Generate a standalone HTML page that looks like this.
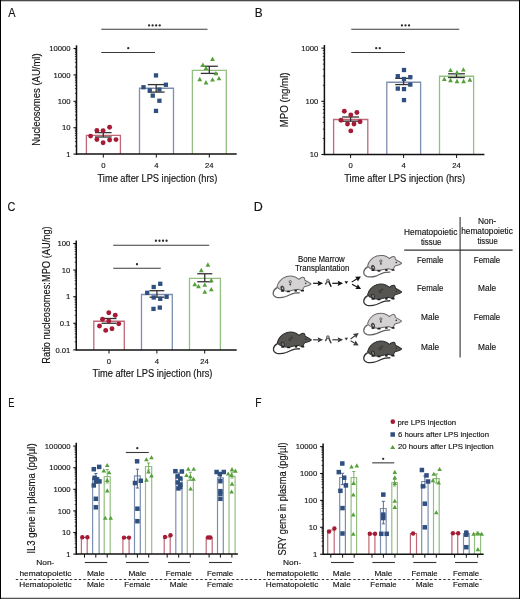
<!DOCTYPE html>
<html><head><meta charset="utf-8"><style>
html,body{margin:0;padding:0;background:#fff;width:520px;height:599px;overflow:hidden;}
svg{display:block;will-change:transform;}
text{font-family:"Liberation Sans", sans-serif;stroke:#141414;stroke-width:0.15px;}
</style></head><body>
<svg width="520" height="599" viewBox="0 0 520 599">
<rect x="0" y="0" width="520" height="599" fill="#fff"/>
<text x="8.18" y="16.50" font-size="12.4" fill="#141414" textLength="7.24" lengthAdjust="spacingAndGlyphs" >A</text>
<line x1="76.50" y1="45.30" x2="76.50" y2="154.80" stroke="#111" stroke-width="1.5" />
<line x1="73.50" y1="154.10" x2="76.50" y2="154.10" stroke="#111" stroke-width="1.1" />
<text x="66.34" y="156.85" font-size="8.0" fill="#141414" textLength="4.28" lengthAdjust="spacingAndGlyphs" >1</text>
<line x1="74.90" y1="146.15" x2="76.50" y2="146.15" stroke="#111" stroke-width="0.8" />
<line x1="74.90" y1="141.50" x2="76.50" y2="141.50" stroke="#111" stroke-width="0.8" />
<line x1="74.90" y1="138.21" x2="76.50" y2="138.21" stroke="#111" stroke-width="0.8" />
<line x1="74.90" y1="135.65" x2="76.50" y2="135.65" stroke="#111" stroke-width="0.8" />
<line x1="74.90" y1="133.56" x2="76.50" y2="133.56" stroke="#111" stroke-width="0.8" />
<line x1="74.90" y1="131.79" x2="76.50" y2="131.79" stroke="#111" stroke-width="0.8" />
<line x1="74.90" y1="130.26" x2="76.50" y2="130.26" stroke="#111" stroke-width="0.8" />
<line x1="74.90" y1="128.91" x2="76.50" y2="128.91" stroke="#111" stroke-width="0.8" />
<line x1="73.50" y1="127.70" x2="76.50" y2="127.70" stroke="#111" stroke-width="1.1" />
<text x="61.98" y="130.45" font-size="8.0" fill="#141414" textLength="8.57" lengthAdjust="spacingAndGlyphs" >10</text>
<line x1="74.90" y1="119.75" x2="76.50" y2="119.75" stroke="#111" stroke-width="0.8" />
<line x1="74.90" y1="115.10" x2="76.50" y2="115.10" stroke="#111" stroke-width="0.8" />
<line x1="74.90" y1="111.81" x2="76.50" y2="111.81" stroke="#111" stroke-width="0.8" />
<line x1="74.90" y1="109.25" x2="76.50" y2="109.25" stroke="#111" stroke-width="0.8" />
<line x1="74.90" y1="107.16" x2="76.50" y2="107.16" stroke="#111" stroke-width="0.8" />
<line x1="74.90" y1="105.39" x2="76.50" y2="105.39" stroke="#111" stroke-width="0.8" />
<line x1="74.90" y1="103.86" x2="76.50" y2="103.86" stroke="#111" stroke-width="0.8" />
<line x1="74.90" y1="102.51" x2="76.50" y2="102.51" stroke="#111" stroke-width="0.8" />
<line x1="73.50" y1="101.30" x2="76.50" y2="101.30" stroke="#111" stroke-width="1.1" />
<text x="57.70" y="104.05" font-size="8.0" fill="#141414" textLength="12.85" lengthAdjust="spacingAndGlyphs" >100</text>
<line x1="74.90" y1="93.35" x2="76.50" y2="93.35" stroke="#111" stroke-width="0.8" />
<line x1="74.90" y1="88.70" x2="76.50" y2="88.70" stroke="#111" stroke-width="0.8" />
<line x1="74.90" y1="85.41" x2="76.50" y2="85.41" stroke="#111" stroke-width="0.8" />
<line x1="74.90" y1="82.85" x2="76.50" y2="82.85" stroke="#111" stroke-width="0.8" />
<line x1="74.90" y1="80.76" x2="76.50" y2="80.76" stroke="#111" stroke-width="0.8" />
<line x1="74.90" y1="78.99" x2="76.50" y2="78.99" stroke="#111" stroke-width="0.8" />
<line x1="74.90" y1="77.46" x2="76.50" y2="77.46" stroke="#111" stroke-width="0.8" />
<line x1="74.90" y1="76.11" x2="76.50" y2="76.11" stroke="#111" stroke-width="0.8" />
<line x1="73.50" y1="74.90" x2="76.50" y2="74.90" stroke="#111" stroke-width="1.1" />
<text x="53.41" y="77.65" font-size="8.0" fill="#141414" textLength="17.14" lengthAdjust="spacingAndGlyphs" >1000</text>
<line x1="74.90" y1="66.95" x2="76.50" y2="66.95" stroke="#111" stroke-width="0.8" />
<line x1="74.90" y1="62.30" x2="76.50" y2="62.30" stroke="#111" stroke-width="0.8" />
<line x1="74.90" y1="59.01" x2="76.50" y2="59.01" stroke="#111" stroke-width="0.8" />
<line x1="74.90" y1="56.45" x2="76.50" y2="56.45" stroke="#111" stroke-width="0.8" />
<line x1="74.90" y1="54.36" x2="76.50" y2="54.36" stroke="#111" stroke-width="0.8" />
<line x1="74.90" y1="52.59" x2="76.50" y2="52.59" stroke="#111" stroke-width="0.8" />
<line x1="74.90" y1="51.06" x2="76.50" y2="51.06" stroke="#111" stroke-width="0.8" />
<line x1="74.90" y1="49.71" x2="76.50" y2="49.71" stroke="#111" stroke-width="0.8" />
<line x1="73.50" y1="48.50" x2="76.50" y2="48.50" stroke="#111" stroke-width="1.1" />
<text x="49.13" y="51.25" font-size="8.0" fill="#141414" textLength="21.42" lengthAdjust="spacingAndGlyphs" >10000</text>
<path d="M86.40 154.10V135.40H120.40V154.10" fill="none" stroke="#c06878" stroke-width="1.3"/>
<path d="M139.50 154.10V88.25H173.50V154.10" fill="none" stroke="#7d8fae" stroke-width="1.3"/>
<path d="M192.40 154.10V70.40H226.30V154.10" fill="none" stroke="#93bf80" stroke-width="1.3"/>
<line x1="76.00" y1="154.10" x2="236.70" y2="154.10" stroke="#111" stroke-width="1.5" />
<line x1="103.30" y1="154.10" x2="103.30" y2="157.60" stroke="#111" stroke-width="1.0" />
<text x="101.16" y="168.10" font-size="8.0" fill="#141414" textLength="4.28" lengthAdjust="spacingAndGlyphs" >0</text>
<line x1="156.30" y1="154.10" x2="156.30" y2="157.60" stroke="#111" stroke-width="1.0" />
<text x="154.18" y="168.10" font-size="8.0" fill="#141414" textLength="4.28" lengthAdjust="spacingAndGlyphs" >4</text>
<line x1="209.30" y1="154.10" x2="209.30" y2="157.60" stroke="#111" stroke-width="1.0" />
<text x="204.93" y="168.10" font-size="8.0" fill="#141414" textLength="8.57" lengthAdjust="spacingAndGlyphs" >24</text>
<line x1="95.00" y1="132.60" x2="111.60" y2="132.60" stroke="#333333" stroke-width="1.3" />
<line x1="95.00" y1="137.00" x2="111.60" y2="137.00" stroke="#333333" stroke-width="1.3" />
<line x1="103.30" y1="132.60" x2="103.30" y2="137.00" stroke="#333333" stroke-width="1.3" />
<circle cx="90.60" cy="136.10" r="2.45" fill="#a51b35"/>
<circle cx="96.90" cy="130.40" r="2.45" fill="#a51b35"/>
<circle cx="103.10" cy="130.60" r="2.45" fill="#a51b35"/>
<circle cx="109.60" cy="127.30" r="2.45" fill="#a51b35"/>
<circle cx="96.90" cy="139.50" r="2.45" fill="#a51b35"/>
<circle cx="103.10" cy="142.75" r="2.45" fill="#a51b35"/>
<circle cx="109.60" cy="140.00" r="2.45" fill="#a51b35"/>
<circle cx="116.00" cy="139.60" r="2.45" fill="#a51b35"/>
<line x1="147.80" y1="84.60" x2="164.60" y2="84.60" stroke="#333333" stroke-width="1.3" />
<line x1="147.80" y1="92.10" x2="164.60" y2="92.10" stroke="#333333" stroke-width="1.3" />
<line x1="156.20" y1="84.60" x2="156.20" y2="92.10" stroke="#333333" stroke-width="1.3" />
<rect x="153.85" y="73.25" width="4.3" height="4.3" fill="#2f4f7f"/>
<rect x="141.35" y="85.10" width="4.3" height="4.3" fill="#2f4f7f"/>
<rect x="163.75" y="82.60" width="4.3" height="4.3" fill="#2f4f7f"/>
<rect x="147.60" y="88.25" width="4.3" height="4.3" fill="#2f4f7f"/>
<rect x="157.25" y="87.45" width="4.3" height="4.3" fill="#2f4f7f"/>
<rect x="150.60" y="93.45" width="4.3" height="4.3" fill="#2f4f7f"/>
<rect x="157.25" y="98.60" width="4.3" height="4.3" fill="#2f4f7f"/>
<rect x="153.85" y="108.75" width="4.3" height="4.3" fill="#2f4f7f"/>
<line x1="200.80" y1="66.25" x2="217.80" y2="66.25" stroke="#333333" stroke-width="1.3" />
<line x1="200.80" y1="73.40" x2="217.80" y2="73.40" stroke="#333333" stroke-width="1.3" />
<line x1="209.30" y1="66.25" x2="209.30" y2="73.40" stroke="#333333" stroke-width="1.3" />
<path d="M212.50 56.60L214.90 60.90L210.10 60.90Z" fill="#55a03a"/>
<path d="M202.90 62.60L205.30 66.90L200.50 66.90Z" fill="#55a03a"/>
<path d="M206.00 65.75L208.40 70.05L203.60 70.05Z" fill="#55a03a"/>
<path d="M215.90 70.95L218.30 75.25L213.50 75.25Z" fill="#55a03a"/>
<path d="M199.75 76.85L202.15 81.15L197.35 81.15Z" fill="#55a03a"/>
<path d="M206.00 80.10L208.40 84.40L203.60 84.40Z" fill="#55a03a"/>
<path d="M212.50 77.25L214.90 81.55L210.10 81.55Z" fill="#55a03a"/>
<path d="M219.00 75.95L221.40 80.25L216.60 80.25Z" fill="#55a03a"/>
<line x1="101.25" y1="29.30" x2="207.50" y2="29.30" stroke="#3a3a3a" stroke-width="1.1" />
<circle cx="149.08" cy="25.40" r="1.15" fill="#2a2a2a"/>
<circle cx="152.62" cy="25.40" r="1.15" fill="#2a2a2a"/>
<circle cx="156.18" cy="25.40" r="1.15" fill="#2a2a2a"/>
<circle cx="159.72" cy="25.40" r="1.15" fill="#2a2a2a"/>
<line x1="101.25" y1="52.50" x2="155.00" y2="52.50" stroke="#3a3a3a" stroke-width="1.1" />
<circle cx="128.25" cy="48.20" r="1.15" fill="#2a2a2a"/>
<text x="97.54" y="181.60" font-size="10" fill="#141414" textLength="119.73" lengthAdjust="spacingAndGlyphs" >Time after LPS injection (hrs)</text>
<text x="-0.78" y="0" font-size="10" fill="#141414" textLength="92.37" lengthAdjust="spacingAndGlyphs" transform="translate(40.10 145.00) rotate(-90)">Nucleosomes (AU/ml)</text>
<text x="254.63" y="16.50" font-size="12.4" fill="#141414" textLength="7.90" lengthAdjust="spacingAndGlyphs" >B</text>
<line x1="324.40" y1="45.00" x2="324.40" y2="155.20" stroke="#111" stroke-width="1.5" />
<line x1="321.40" y1="154.50" x2="324.40" y2="154.50" stroke="#111" stroke-width="1.1" />
<text x="309.83" y="157.25" font-size="8.0" fill="#141414" textLength="8.57" lengthAdjust="spacingAndGlyphs" >10</text>
<line x1="322.80" y1="138.49" x2="324.40" y2="138.49" stroke="#111" stroke-width="0.8" />
<line x1="322.80" y1="129.12" x2="324.40" y2="129.12" stroke="#111" stroke-width="0.8" />
<line x1="322.80" y1="122.47" x2="324.40" y2="122.47" stroke="#111" stroke-width="0.8" />
<line x1="322.80" y1="117.31" x2="324.40" y2="117.31" stroke="#111" stroke-width="0.8" />
<line x1="322.80" y1="113.10" x2="324.40" y2="113.10" stroke="#111" stroke-width="0.8" />
<line x1="322.80" y1="109.54" x2="324.40" y2="109.54" stroke="#111" stroke-width="0.8" />
<line x1="322.80" y1="106.46" x2="324.40" y2="106.46" stroke="#111" stroke-width="0.8" />
<line x1="322.80" y1="103.73" x2="324.40" y2="103.73" stroke="#111" stroke-width="0.8" />
<line x1="321.40" y1="101.30" x2="324.40" y2="101.30" stroke="#111" stroke-width="1.1" />
<text x="305.55" y="104.05" font-size="8.0" fill="#141414" textLength="12.85" lengthAdjust="spacingAndGlyphs" >100</text>
<line x1="322.80" y1="85.29" x2="324.40" y2="85.29" stroke="#111" stroke-width="0.8" />
<line x1="322.80" y1="75.92" x2="324.40" y2="75.92" stroke="#111" stroke-width="0.8" />
<line x1="322.80" y1="69.27" x2="324.40" y2="69.27" stroke="#111" stroke-width="0.8" />
<line x1="322.80" y1="64.11" x2="324.40" y2="64.11" stroke="#111" stroke-width="0.8" />
<line x1="322.80" y1="59.90" x2="324.40" y2="59.90" stroke="#111" stroke-width="0.8" />
<line x1="322.80" y1="56.34" x2="324.40" y2="56.34" stroke="#111" stroke-width="0.8" />
<line x1="322.80" y1="53.26" x2="324.40" y2="53.26" stroke="#111" stroke-width="0.8" />
<line x1="322.80" y1="50.53" x2="324.40" y2="50.53" stroke="#111" stroke-width="0.8" />
<line x1="321.40" y1="48.10" x2="324.40" y2="48.10" stroke="#111" stroke-width="1.1" />
<text x="301.26" y="50.85" font-size="8.0" fill="#141414" textLength="17.14" lengthAdjust="spacingAndGlyphs" >1000</text>
<path d="M333.60 154.50V119.50H367.80V154.50" fill="none" stroke="#c06878" stroke-width="1.3"/>
<path d="M386.80 154.50V82.25H420.60V154.50" fill="none" stroke="#7d8fae" stroke-width="1.3"/>
<path d="M439.50 154.50V76.25H473.60V154.50" fill="none" stroke="#93bf80" stroke-width="1.3"/>
<line x1="324.00" y1="154.50" x2="484.40" y2="154.50" stroke="#111" stroke-width="1.5" />
<line x1="350.60" y1="154.50" x2="350.60" y2="158.00" stroke="#111" stroke-width="1.0" />
<text x="348.46" y="168.10" font-size="8.0" fill="#141414" textLength="4.28" lengthAdjust="spacingAndGlyphs" >0</text>
<line x1="403.60" y1="154.50" x2="403.60" y2="158.00" stroke="#111" stroke-width="1.0" />
<text x="401.48" y="168.10" font-size="8.0" fill="#141414" textLength="4.28" lengthAdjust="spacingAndGlyphs" >4</text>
<line x1="456.60" y1="154.50" x2="456.60" y2="158.00" stroke="#111" stroke-width="1.0" />
<text x="452.23" y="168.10" font-size="8.0" fill="#141414" textLength="8.57" lengthAdjust="spacingAndGlyphs" >24</text>
<line x1="342.10" y1="117.00" x2="359.10" y2="117.00" stroke="#333333" stroke-width="1.3" />
<line x1="342.10" y1="121.20" x2="359.10" y2="121.20" stroke="#333333" stroke-width="1.3" />
<line x1="350.60" y1="117.00" x2="350.60" y2="121.20" stroke="#333333" stroke-width="1.3" />
<circle cx="344.30" cy="111.20" r="2.45" fill="#a51b35"/>
<circle cx="356.90" cy="112.50" r="2.45" fill="#a51b35"/>
<circle cx="350.80" cy="115.00" r="2.45" fill="#a51b35"/>
<circle cx="341.00" cy="120.20" r="2.45" fill="#a51b35"/>
<circle cx="360.10" cy="121.80" r="2.45" fill="#a51b35"/>
<circle cx="347.50" cy="124.00" r="2.45" fill="#a51b35"/>
<circle cx="354.00" cy="124.00" r="2.45" fill="#a51b35"/>
<circle cx="350.80" cy="130.90" r="2.45" fill="#a51b35"/>
<line x1="395.20" y1="78.35" x2="412.00" y2="78.35" stroke="#333333" stroke-width="1.3" />
<line x1="395.20" y1="84.55" x2="412.00" y2="84.55" stroke="#333333" stroke-width="1.3" />
<line x1="403.60" y1="78.35" x2="403.60" y2="84.55" stroke="#333333" stroke-width="1.3" />
<rect x="401.85" y="67.85" width="4.3" height="4.3" fill="#2f4f7f"/>
<rect x="395.65" y="74.05" width="4.3" height="4.3" fill="#2f4f7f"/>
<rect x="408.15" y="75.05" width="4.3" height="4.3" fill="#2f4f7f"/>
<rect x="401.85" y="76.85" width="4.3" height="4.3" fill="#2f4f7f"/>
<rect x="408.15" y="82.45" width="4.3" height="4.3" fill="#2f4f7f"/>
<rect x="395.65" y="86.45" width="4.3" height="4.3" fill="#2f4f7f"/>
<rect x="401.85" y="86.95" width="4.3" height="4.3" fill="#2f4f7f"/>
<rect x="401.85" y="97.95" width="4.3" height="4.3" fill="#2f4f7f"/>
<line x1="448.10" y1="73.80" x2="464.90" y2="73.80" stroke="#333333" stroke-width="1.3" />
<line x1="448.10" y1="77.50" x2="464.90" y2="77.50" stroke="#333333" stroke-width="1.3" />
<line x1="456.50" y1="73.80" x2="456.50" y2="77.50" stroke="#333333" stroke-width="1.3" />
<path d="M450.50 67.65L452.90 71.95L448.10 71.95Z" fill="#55a03a"/>
<path d="M463.40 67.15L465.80 71.45L461.00 71.45Z" fill="#55a03a"/>
<path d="M457.00 70.05L459.40 74.35L454.60 74.35Z" fill="#55a03a"/>
<path d="M444.30 76.65L446.70 80.95L441.90 80.95Z" fill="#55a03a"/>
<path d="M450.50 77.85L452.90 82.15L448.10 82.15Z" fill="#55a03a"/>
<path d="M457.00 78.85L459.40 83.15L454.60 83.15Z" fill="#55a03a"/>
<path d="M463.60 78.85L466.00 83.15L461.20 83.15Z" fill="#55a03a"/>
<path d="M469.90 77.35L472.30 81.65L467.50 81.65Z" fill="#55a03a"/>
<line x1="351.25" y1="29.25" x2="459.25" y2="29.25" stroke="#3a3a3a" stroke-width="1.1" />
<circle cx="401.95" cy="25.40" r="1.15" fill="#2a2a2a"/>
<circle cx="405.50" cy="25.40" r="1.15" fill="#2a2a2a"/>
<circle cx="409.05" cy="25.40" r="1.15" fill="#2a2a2a"/>
<line x1="351.25" y1="52.50" x2="405.00" y2="52.50" stroke="#3a3a3a" stroke-width="1.1" />
<circle cx="376.23" cy="48.20" r="1.15" fill="#2a2a2a"/>
<circle cx="379.77" cy="48.20" r="1.15" fill="#2a2a2a"/>
<text x="344.19" y="181.70" font-size="10" fill="#141414" textLength="120.99" lengthAdjust="spacingAndGlyphs" >Time after LPS injection (hrs)</text>
<text x="-0.79" y="0" font-size="10" fill="#141414" textLength="54.79" lengthAdjust="spacingAndGlyphs" transform="translate(288.10 126.50) rotate(-90)">MPO (ng/ml)</text>
<text x="7.55" y="211.00" font-size="12.4" fill="#141414" textLength="7.87" lengthAdjust="spacingAndGlyphs" >C</text>
<line x1="76.25" y1="240.60" x2="76.25" y2="350.60" stroke="#111" stroke-width="1.5" />
<line x1="73.25" y1="349.90" x2="76.25" y2="349.90" stroke="#111" stroke-width="1.1" />
<text x="55.38" y="352.65" font-size="8.0" fill="#141414" textLength="14.99" lengthAdjust="spacingAndGlyphs" >0.01</text>
<line x1="74.65" y1="341.89" x2="76.25" y2="341.89" stroke="#111" stroke-width="0.8" />
<line x1="74.65" y1="337.21" x2="76.25" y2="337.21" stroke="#111" stroke-width="0.8" />
<line x1="74.65" y1="333.89" x2="76.25" y2="333.89" stroke="#111" stroke-width="0.8" />
<line x1="74.65" y1="331.31" x2="76.25" y2="331.31" stroke="#111" stroke-width="0.8" />
<line x1="74.65" y1="329.20" x2="76.25" y2="329.20" stroke="#111" stroke-width="0.8" />
<line x1="74.65" y1="327.42" x2="76.25" y2="327.42" stroke="#111" stroke-width="0.8" />
<line x1="74.65" y1="325.88" x2="76.25" y2="325.88" stroke="#111" stroke-width="0.8" />
<line x1="74.65" y1="324.52" x2="76.25" y2="324.52" stroke="#111" stroke-width="0.8" />
<line x1="73.25" y1="323.30" x2="76.25" y2="323.30" stroke="#111" stroke-width="1.1" />
<text x="59.67" y="326.05" font-size="8.0" fill="#141414" textLength="10.71" lengthAdjust="spacingAndGlyphs" >0.1</text>
<line x1="74.65" y1="315.29" x2="76.25" y2="315.29" stroke="#111" stroke-width="0.8" />
<line x1="74.65" y1="310.61" x2="76.25" y2="310.61" stroke="#111" stroke-width="0.8" />
<line x1="74.65" y1="307.29" x2="76.25" y2="307.29" stroke="#111" stroke-width="0.8" />
<line x1="74.65" y1="304.71" x2="76.25" y2="304.71" stroke="#111" stroke-width="0.8" />
<line x1="74.65" y1="302.60" x2="76.25" y2="302.60" stroke="#111" stroke-width="0.8" />
<line x1="74.65" y1="300.82" x2="76.25" y2="300.82" stroke="#111" stroke-width="0.8" />
<line x1="74.65" y1="299.28" x2="76.25" y2="299.28" stroke="#111" stroke-width="0.8" />
<line x1="74.65" y1="297.92" x2="76.25" y2="297.92" stroke="#111" stroke-width="0.8" />
<line x1="73.25" y1="296.70" x2="76.25" y2="296.70" stroke="#111" stroke-width="1.1" />
<text x="66.09" y="299.45" font-size="8.0" fill="#141414" textLength="4.28" lengthAdjust="spacingAndGlyphs" >1</text>
<line x1="74.65" y1="288.69" x2="76.25" y2="288.69" stroke="#111" stroke-width="0.8" />
<line x1="74.65" y1="284.01" x2="76.25" y2="284.01" stroke="#111" stroke-width="0.8" />
<line x1="74.65" y1="280.69" x2="76.25" y2="280.69" stroke="#111" stroke-width="0.8" />
<line x1="74.65" y1="278.11" x2="76.25" y2="278.11" stroke="#111" stroke-width="0.8" />
<line x1="74.65" y1="276.00" x2="76.25" y2="276.00" stroke="#111" stroke-width="0.8" />
<line x1="74.65" y1="274.22" x2="76.25" y2="274.22" stroke="#111" stroke-width="0.8" />
<line x1="74.65" y1="272.68" x2="76.25" y2="272.68" stroke="#111" stroke-width="0.8" />
<line x1="74.65" y1="271.32" x2="76.25" y2="271.32" stroke="#111" stroke-width="0.8" />
<line x1="73.25" y1="270.10" x2="76.25" y2="270.10" stroke="#111" stroke-width="1.1" />
<text x="61.73" y="272.85" font-size="8.0" fill="#141414" textLength="8.57" lengthAdjust="spacingAndGlyphs" >10</text>
<line x1="74.65" y1="262.09" x2="76.25" y2="262.09" stroke="#111" stroke-width="0.8" />
<line x1="74.65" y1="257.41" x2="76.25" y2="257.41" stroke="#111" stroke-width="0.8" />
<line x1="74.65" y1="254.09" x2="76.25" y2="254.09" stroke="#111" stroke-width="0.8" />
<line x1="74.65" y1="251.51" x2="76.25" y2="251.51" stroke="#111" stroke-width="0.8" />
<line x1="74.65" y1="249.40" x2="76.25" y2="249.40" stroke="#111" stroke-width="0.8" />
<line x1="74.65" y1="247.62" x2="76.25" y2="247.62" stroke="#111" stroke-width="0.8" />
<line x1="74.65" y1="246.08" x2="76.25" y2="246.08" stroke="#111" stroke-width="0.8" />
<line x1="74.65" y1="244.72" x2="76.25" y2="244.72" stroke="#111" stroke-width="0.8" />
<line x1="73.25" y1="243.50" x2="76.25" y2="243.50" stroke="#111" stroke-width="1.1" />
<text x="57.45" y="246.25" font-size="8.0" fill="#141414" textLength="12.85" lengthAdjust="spacingAndGlyphs" >100</text>
<path d="M93.80 349.90V321.25H124.30V349.90" fill="none" stroke="#c06878" stroke-width="1.3"/>
<path d="M141.50 349.90V294.50H172.30V349.90" fill="none" stroke="#7d8fae" stroke-width="1.3"/>
<path d="M189.50 349.90V278.35H220.40V349.90" fill="none" stroke="#93bf80" stroke-width="1.3"/>
<line x1="76.00" y1="350.00" x2="236.70" y2="350.00" stroke="#111" stroke-width="1.5" />
<line x1="109.00" y1="350.00" x2="109.00" y2="353.50" stroke="#111" stroke-width="1.0" />
<text x="106.86" y="363.80" font-size="8.0" fill="#141414" textLength="4.28" lengthAdjust="spacingAndGlyphs" >0</text>
<line x1="156.90" y1="350.00" x2="156.90" y2="353.50" stroke="#111" stroke-width="1.0" />
<text x="154.78" y="363.80" font-size="8.0" fill="#141414" textLength="4.28" lengthAdjust="spacingAndGlyphs" >4</text>
<line x1="204.70" y1="350.00" x2="204.70" y2="353.50" stroke="#111" stroke-width="1.0" />
<text x="200.33" y="363.80" font-size="8.0" fill="#141414" textLength="8.57" lengthAdjust="spacingAndGlyphs" >24</text>
<line x1="101.50" y1="318.50" x2="116.50" y2="318.50" stroke="#333333" stroke-width="1.3" />
<line x1="101.50" y1="323.25" x2="116.50" y2="323.25" stroke="#333333" stroke-width="1.3" />
<line x1="109.00" y1="318.50" x2="109.00" y2="323.25" stroke="#333333" stroke-width="1.3" />
<circle cx="108.80" cy="312.80" r="2.45" fill="#a51b35"/>
<circle cx="115.25" cy="315.30" r="2.45" fill="#a51b35"/>
<circle cx="102.50" cy="319.20" r="2.45" fill="#a51b35"/>
<circle cx="108.80" cy="321.00" r="2.45" fill="#a51b35"/>
<circle cx="118.75" cy="323.85" r="2.45" fill="#a51b35"/>
<circle cx="99.50" cy="326.00" r="2.45" fill="#a51b35"/>
<circle cx="112.00" cy="328.75" r="2.45" fill="#a51b35"/>
<circle cx="105.70" cy="330.40" r="2.45" fill="#a51b35"/>
<line x1="149.50" y1="290.70" x2="164.30" y2="290.70" stroke="#333333" stroke-width="1.3" />
<line x1="149.50" y1="297.20" x2="164.30" y2="297.20" stroke="#333333" stroke-width="1.3" />
<line x1="156.90" y1="290.70" x2="156.90" y2="297.20" stroke="#333333" stroke-width="1.3" />
<rect x="158.10" y="281.65" width="4.3" height="4.3" fill="#2f4f7f"/>
<rect x="151.55" y="284.85" width="4.3" height="4.3" fill="#2f4f7f"/>
<rect x="145.05" y="290.65" width="4.3" height="4.3" fill="#2f4f7f"/>
<rect x="151.55" y="295.35" width="4.3" height="4.3" fill="#2f4f7f"/>
<rect x="158.10" y="296.65" width="4.3" height="4.3" fill="#2f4f7f"/>
<rect x="164.45" y="294.65" width="4.3" height="4.3" fill="#2f4f7f"/>
<rect x="151.35" y="306.75" width="4.3" height="4.3" fill="#2f4f7f"/>
<rect x="157.65" y="305.45" width="4.3" height="4.3" fill="#2f4f7f"/>
<line x1="197.20" y1="273.75" x2="212.30" y2="273.75" stroke="#333333" stroke-width="1.3" />
<line x1="197.20" y1="281.75" x2="212.30" y2="281.75" stroke="#333333" stroke-width="1.3" />
<line x1="204.75" y1="273.75" x2="204.75" y2="281.75" stroke="#333333" stroke-width="1.3" />
<path d="M207.90 262.35L210.30 266.65L205.50 266.65Z" fill="#55a03a"/>
<path d="M201.30 267.85L203.70 272.15L198.90 272.15Z" fill="#55a03a"/>
<path d="M211.30 277.85L213.70 282.15L208.90 282.15Z" fill="#55a03a"/>
<path d="M194.80 281.85L197.20 286.15L192.40 286.15Z" fill="#55a03a"/>
<path d="M198.50 283.85L200.90 288.15L196.10 288.15Z" fill="#55a03a"/>
<path d="M204.80 282.45L207.20 286.75L202.40 286.75Z" fill="#55a03a"/>
<path d="M211.30 286.95L213.70 291.25L208.90 291.25Z" fill="#55a03a"/>
<path d="M204.80 289.45L207.20 293.75L202.40 293.75Z" fill="#55a03a"/>
<line x1="113.25" y1="245.25" x2="209.25" y2="245.25" stroke="#3a3a3a" stroke-width="1.1" />
<circle cx="155.93" cy="240.75" r="1.15" fill="#2a2a2a"/>
<circle cx="159.47" cy="240.75" r="1.15" fill="#2a2a2a"/>
<circle cx="163.03" cy="240.75" r="1.15" fill="#2a2a2a"/>
<circle cx="166.57" cy="240.75" r="1.15" fill="#2a2a2a"/>
<line x1="113.25" y1="268.25" x2="160.75" y2="268.25" stroke="#3a3a3a" stroke-width="1.1" />
<circle cx="137.00" cy="264.25" r="1.15" fill="#2a2a2a"/>
<text x="92.59" y="377.45" font-size="10" fill="#141414" textLength="119.88" lengthAdjust="spacingAndGlyphs" >Time after LPS injection (hrs)</text>
<text x="-0.76" y="0" font-size="10" fill="#141414" textLength="137.34" lengthAdjust="spacingAndGlyphs" transform="translate(50.30 362.90) rotate(-90)">Ratio nucleosomes:MPO (AU/ng)</text>
<text x="253.88" y="210.90" font-size="12.4" fill="#141414" textLength="9.02" lengthAdjust="spacingAndGlyphs" >D</text>
<line x1="460.10" y1="217.10" x2="460.10" y2="357.60" stroke="#333" stroke-width="1.1" />
<line x1="404.20" y1="250.10" x2="512.60" y2="250.10" stroke="#333" stroke-width="1.1" />
<text x="404.12" y="234.50" font-size="8.2" fill="#141414" textLength="53.20" lengthAdjust="spacingAndGlyphs" >Hematopoietic</text>
<text x="420.88" y="244.60" font-size="8.2" fill="#141414" textLength="20.47" lengthAdjust="spacingAndGlyphs" >tissue</text>
<text x="478.01" y="224.40" font-size="8.2" fill="#141414" textLength="18.16" lengthAdjust="spacingAndGlyphs" >Non-</text>
<text x="461.23" y="234.30" font-size="8.2" fill="#141414" textLength="51.59" lengthAdjust="spacingAndGlyphs" >hematopoietic</text>
<text x="477.48" y="244.40" font-size="8.2" fill="#141414" textLength="20.26" lengthAdjust="spacingAndGlyphs" >tissue</text>
<text x="417.05" y="262.50" font-size="8.2" fill="#141414" textLength="26.30" lengthAdjust="spacingAndGlyphs" >Female</text>
<text x="473.85" y="262.50" font-size="8.2" fill="#141414" textLength="26.40" lengthAdjust="spacingAndGlyphs" >Female</text>
<text x="417.05" y="291.30" font-size="8.2" fill="#141414" textLength="26.30" lengthAdjust="spacingAndGlyphs" >Female</text>
<text x="478.12" y="291.30" font-size="8.2" fill="#141414" textLength="18.05" lengthAdjust="spacingAndGlyphs" >Male</text>
<text x="421.12" y="319.60" font-size="8.2" fill="#141414" textLength="18.05" lengthAdjust="spacingAndGlyphs" >Male</text>
<text x="473.85" y="319.60" font-size="8.2" fill="#141414" textLength="26.40" lengthAdjust="spacingAndGlyphs" >Female</text>
<text x="421.12" y="350.00" font-size="8.2" fill="#141414" textLength="18.05" lengthAdjust="spacingAndGlyphs" >Male</text>
<text x="478.12" y="350.00" font-size="8.2" fill="#141414" textLength="18.05" lengthAdjust="spacingAndGlyphs" >Male</text>
<text x="298.00" y="261.50" font-size="8.2" fill="#141414" textLength="46.78" lengthAdjust="spacingAndGlyphs" >Bone Marrow</text>
<text x="295.02" y="271.30" font-size="8.2" fill="#141414" textLength="54.29" lengthAdjust="spacingAndGlyphs" >Transplantation</text>
<g transform="translate(270.00 273.60) scale(0.08475)">
<path d="M84 165 C60 178 42 198 38 222 C34 250 50 272 78 280 C110 287 150 283 188 270 C222 257 250 238 290 230 C312 226 330 226 350 226" fill="none" stroke="#626262" stroke-width="15"/>
<path d="M82 156 C88 128 100 105 115 88 C135 63 160 45 190 36 C215 29 245 28 270 32 C295 37 320 52 342 68 C348 60 360 50 375 45 C390 40 402 44 406 54 C408 62 409 70 411 78 C435 90 465 105 484 121 C478 130 470 135 455 140 C440 145 425 150 410 153 C400 160 395 170 392 180 C390 190 385 196 375 198 C360 196 345 190 330 186 C310 188 290 192 270 195 C245 200 225 205 205 206 C180 205 160 200 140 196 C120 190 100 178 82 156 Z" fill="#d5d2d4" stroke="#6a6a6a" stroke-width="12"/>
<ellipse cx="147" cy="172" rx="17" ry="27" fill="#555" stroke="#333" stroke-width="10" transform="rotate(-20 147 172)"/>
<ellipse cx="149" cy="174" rx="6" ry="11" fill="#f4f4f4" transform="rotate(-20 149 174)"/>
<ellipse cx="147" cy="204" rx="20" ry="11" fill="#1e1e1e"/>
<ellipse cx="217" cy="211" rx="21" ry="10" fill="#1e1e1e"/>
<ellipse cx="304" cy="202" rx="17" ry="11" fill="#1e1e1e"/>
<ellipse cx="383" cy="202" rx="20" ry="10" fill="#1e1e1e"/>
<circle cx="421" cy="113" r="9" fill="#2a2a2a"/>
<circle cx="239" cy="96" r="13" fill="#eee" stroke="#4a4a4a" stroke-width="10"/>
<path d="M239 109V142M228 128H250" stroke="#4a4a4a" stroke-width="10" fill="none"/>
</g>
<g transform="translate(270.30 329.60) scale(0.08475)">
<path d="M84 165 C60 178 42 198 38 222 C34 250 50 272 78 280 C110 287 150 283 188 270 C222 257 250 238 290 230 C312 226 330 226 350 226" fill="none" stroke="#303030" stroke-width="15"/>
<path d="M82 156 C88 128 100 105 115 88 C135 63 160 45 190 36 C215 29 245 28 270 32 C295 37 320 52 342 68 C348 60 360 50 375 45 C390 40 402 44 406 54 C408 62 409 70 411 78 C435 90 465 105 484 121 C478 130 470 135 455 140 C440 145 425 150 410 153 C400 160 395 170 392 180 C390 190 385 196 375 198 C360 196 345 190 330 186 C310 188 290 192 270 195 C245 200 225 205 205 206 C180 205 160 200 140 196 C120 190 100 178 82 156 Z" fill="#565551" stroke="#2e2e2e" stroke-width="12"/>
<ellipse cx="147" cy="172" rx="17" ry="27" fill="#6e6e6e" stroke="#262626" stroke-width="10" transform="rotate(-20 147 172)"/>
<ellipse cx="149" cy="174" rx="6" ry="11" fill="#8a8a8a" transform="rotate(-20 149 174)"/>
<ellipse cx="147" cy="204" rx="20" ry="11" fill="#1e1e1e"/>
<ellipse cx="217" cy="211" rx="21" ry="10" fill="#1e1e1e"/>
<ellipse cx="304" cy="202" rx="17" ry="11" fill="#1e1e1e"/>
<ellipse cx="383" cy="202" rx="20" ry="10" fill="#1e1e1e"/>
<circle cx="421" cy="113" r="9" fill="#2a2a2a"/>
<circle cx="231" cy="117" r="14" fill="none" stroke="#333" stroke-width="10"/>
<path d="M241 107L258 90M246 88H260V102" stroke="#333" stroke-width="10" fill="none"/>
</g>
<g transform="translate(360.60 252.90) scale(0.08475)">
<path d="M84 165 C60 178 42 198 38 222 C34 250 50 272 78 280 C110 287 150 283 188 270 C222 257 250 238 290 230 C312 226 330 226 350 226" fill="none" stroke="#626262" stroke-width="15"/>
<path d="M82 156 C88 128 100 105 115 88 C135 63 160 45 190 36 C215 29 245 28 270 32 C295 37 320 52 342 68 C348 60 360 50 375 45 C390 40 402 44 406 54 C408 62 409 70 411 78 C435 90 465 105 484 121 C478 130 470 135 455 140 C440 145 425 150 410 153 C400 160 395 170 392 180 C390 190 385 196 375 198 C360 196 345 190 330 186 C310 188 290 192 270 195 C245 200 225 205 205 206 C180 205 160 200 140 196 C120 190 100 178 82 156 Z" fill="#d5d2d4" stroke="#6a6a6a" stroke-width="12"/>
<ellipse cx="147" cy="172" rx="17" ry="27" fill="#555" stroke="#333" stroke-width="10" transform="rotate(-20 147 172)"/>
<ellipse cx="149" cy="174" rx="6" ry="11" fill="#f4f4f4" transform="rotate(-20 149 174)"/>
<ellipse cx="147" cy="204" rx="20" ry="11" fill="#1e1e1e"/>
<ellipse cx="217" cy="211" rx="21" ry="10" fill="#1e1e1e"/>
<ellipse cx="304" cy="202" rx="17" ry="11" fill="#1e1e1e"/>
<ellipse cx="383" cy="202" rx="20" ry="10" fill="#1e1e1e"/>
<circle cx="421" cy="113" r="9" fill="#2a2a2a"/>
<circle cx="239" cy="96" r="13" fill="#eee" stroke="#4a4a4a" stroke-width="10"/>
<path d="M239 109V142M228 128H250" stroke="#4a4a4a" stroke-width="10" fill="none"/>
</g>
<g transform="translate(360.60 281.60) scale(0.08475)">
<path d="M84 165 C60 178 42 198 38 222 C34 250 50 272 78 280 C110 287 150 283 188 270 C222 257 250 238 290 230 C312 226 330 226 350 226" fill="none" stroke="#303030" stroke-width="15"/>
<path d="M82 156 C88 128 100 105 115 88 C135 63 160 45 190 36 C215 29 245 28 270 32 C295 37 320 52 342 68 C348 60 360 50 375 45 C390 40 402 44 406 54 C408 62 409 70 411 78 C435 90 465 105 484 121 C478 130 470 135 455 140 C440 145 425 150 410 153 C400 160 395 170 392 180 C390 190 385 196 375 198 C360 196 345 190 330 186 C310 188 290 192 270 195 C245 200 225 205 205 206 C180 205 160 200 140 196 C120 190 100 178 82 156 Z" fill="#565551" stroke="#2e2e2e" stroke-width="12"/>
<ellipse cx="147" cy="172" rx="17" ry="27" fill="#6e6e6e" stroke="#262626" stroke-width="10" transform="rotate(-20 147 172)"/>
<ellipse cx="149" cy="174" rx="6" ry="11" fill="#8a8a8a" transform="rotate(-20 149 174)"/>
<ellipse cx="147" cy="204" rx="20" ry="11" fill="#1e1e1e"/>
<ellipse cx="217" cy="211" rx="21" ry="10" fill="#1e1e1e"/>
<ellipse cx="304" cy="202" rx="17" ry="11" fill="#1e1e1e"/>
<ellipse cx="383" cy="202" rx="20" ry="10" fill="#1e1e1e"/>
<circle cx="421" cy="113" r="9" fill="#2a2a2a"/>
<circle cx="231" cy="117" r="14" fill="none" stroke="#333" stroke-width="10"/>
<path d="M241 107L258 90M246 88H260V102" stroke="#333" stroke-width="10" fill="none"/>
</g>
<g transform="translate(360.60 310.80) scale(0.08475)">
<path d="M84 165 C60 178 42 198 38 222 C34 250 50 272 78 280 C110 287 150 283 188 270 C222 257 250 238 290 230 C312 226 330 226 350 226" fill="none" stroke="#626262" stroke-width="15"/>
<path d="M82 156 C88 128 100 105 115 88 C135 63 160 45 190 36 C215 29 245 28 270 32 C295 37 320 52 342 68 C348 60 360 50 375 45 C390 40 402 44 406 54 C408 62 409 70 411 78 C435 90 465 105 484 121 C478 130 470 135 455 140 C440 145 425 150 410 153 C400 160 395 170 392 180 C390 190 385 196 375 198 C360 196 345 190 330 186 C310 188 290 192 270 195 C245 200 225 205 205 206 C180 205 160 200 140 196 C120 190 100 178 82 156 Z" fill="#d5d2d4" stroke="#6a6a6a" stroke-width="12"/>
<ellipse cx="147" cy="172" rx="17" ry="27" fill="#555" stroke="#333" stroke-width="10" transform="rotate(-20 147 172)"/>
<ellipse cx="149" cy="174" rx="6" ry="11" fill="#f4f4f4" transform="rotate(-20 149 174)"/>
<ellipse cx="147" cy="204" rx="20" ry="11" fill="#1e1e1e"/>
<ellipse cx="217" cy="211" rx="21" ry="10" fill="#1e1e1e"/>
<ellipse cx="304" cy="202" rx="17" ry="11" fill="#1e1e1e"/>
<ellipse cx="383" cy="202" rx="20" ry="10" fill="#1e1e1e"/>
<circle cx="421" cy="113" r="9" fill="#2a2a2a"/>
<circle cx="239" cy="96" r="13" fill="#eee" stroke="#4a4a4a" stroke-width="10"/>
<path d="M239 109V142M228 128H250" stroke="#4a4a4a" stroke-width="10" fill="none"/>
</g>
<g transform="translate(360.60 338.60) scale(0.08475)">
<path d="M84 165 C60 178 42 198 38 222 C34 250 50 272 78 280 C110 287 150 283 188 270 C222 257 250 238 290 230 C312 226 330 226 350 226" fill="none" stroke="#303030" stroke-width="15"/>
<path d="M82 156 C88 128 100 105 115 88 C135 63 160 45 190 36 C215 29 245 28 270 32 C295 37 320 52 342 68 C348 60 360 50 375 45 C390 40 402 44 406 54 C408 62 409 70 411 78 C435 90 465 105 484 121 C478 130 470 135 455 140 C440 145 425 150 410 153 C400 160 395 170 392 180 C390 190 385 196 375 198 C360 196 345 190 330 186 C310 188 290 192 270 195 C245 200 225 205 205 206 C180 205 160 200 140 196 C120 190 100 178 82 156 Z" fill="#565551" stroke="#2e2e2e" stroke-width="12"/>
<ellipse cx="147" cy="172" rx="17" ry="27" fill="#6e6e6e" stroke="#262626" stroke-width="10" transform="rotate(-20 147 172)"/>
<ellipse cx="149" cy="174" rx="6" ry="11" fill="#8a8a8a" transform="rotate(-20 149 174)"/>
<ellipse cx="147" cy="204" rx="20" ry="11" fill="#1e1e1e"/>
<ellipse cx="217" cy="211" rx="21" ry="10" fill="#1e1e1e"/>
<ellipse cx="304" cy="202" rx="17" ry="11" fill="#1e1e1e"/>
<ellipse cx="383" cy="202" rx="20" ry="10" fill="#1e1e1e"/>
<circle cx="421" cy="113" r="9" fill="#2a2a2a"/>
<circle cx="231" cy="117" r="14" fill="none" stroke="#333" stroke-width="10"/>
<path d="M241 107L258 90M246 88H260V102" stroke="#333" stroke-width="10" fill="none"/>
</g>
<line x1="313.10" y1="283.30" x2="318.20" y2="283.30" stroke="#111" stroke-width="1.2" />
<path d="M323.10 283.30L317.70 280.70L318.30 283.30L317.70 285.90Z" fill="#111"/>
<path d="M327.00 281.80L325.60 284.00" stroke="#555" stroke-width="1.5" stroke-linecap="round"/>
<path d="M328.80 281.50L330.90 286.20" stroke="#111" stroke-width="1.5" stroke-linecap="round"/>
<circle cx="327.90" cy="280.60" r="1.4" fill="#b0b0b0" stroke="#444" stroke-width="0.7"/>
<line x1="332.30" y1="283.30" x2="338.20" y2="283.30" stroke="#111" stroke-width="1.2" />
<path d="M343.10 283.30L337.70 280.70L338.30 283.30L337.70 285.90Z" fill="#111"/>
<path d="M344.5 281.30L348.1 281.30L346.3 283.90Z" fill="#111"/>
<line x1="313.10" y1="339.80" x2="318.20" y2="339.80" stroke="#3c3c3c" stroke-width="1.2" />
<path d="M323.10 339.80L317.70 337.20L318.30 339.80L317.70 342.40Z" fill="#3c3c3c"/>
<path d="M327.00 338.30L325.60 340.50" stroke="#555" stroke-width="1.5" stroke-linecap="round"/>
<path d="M328.80 338.00L330.90 342.70" stroke="#3c3c3c" stroke-width="1.5" stroke-linecap="round"/>
<circle cx="327.90" cy="337.10" r="1.4" fill="#b0b0b0" stroke="#444" stroke-width="0.7"/>
<line x1="332.30" y1="339.80" x2="338.20" y2="339.80" stroke="#3c3c3c" stroke-width="1.2" />
<path d="M343.10 339.80L337.70 337.20L338.30 339.80L337.70 342.40Z" fill="#3c3c3c"/>
<path d="M344.5 337.80L348.1 337.80L346.3 340.40Z" fill="#3c3c3c"/>
<line x1="351.70" y1="282.10" x2="356.99" y2="278.82" stroke="#111" stroke-width="1.1" />
<path d="M360.90 276.40L357.90 281.43L356.90 278.88L355.06 276.84Z" fill="#111"/>
<line x1="352.00" y1="284.30" x2="357.03" y2="286.95" stroke="#111" stroke-width="1.1" />
<path d="M361.10 289.10L355.24 289.06L356.94 286.91L357.76 284.29Z" fill="#111"/>
<line x1="350.60" y1="339.00" x2="354.98" y2="335.81" stroke="#3c3c3c" stroke-width="1.1" />
<path d="M358.70 333.10L356.09 338.34L354.90 335.87L352.91 333.98Z" fill="#3c3c3c"/>
<line x1="350.60" y1="340.80" x2="354.72" y2="343.19" stroke="#3c3c3c" stroke-width="1.1" />
<path d="M358.70 345.50L352.85 345.23L354.63 343.14L355.56 340.55Z" fill="#3c3c3c"/>
<text x="8.24" y="406.90" font-size="12.4" fill="#141414" textLength="6.15" lengthAdjust="spacingAndGlyphs" >E</text>
<line x1="76.25" y1="442.75" x2="76.25" y2="554.80" stroke="#111" stroke-width="1.5" />
<line x1="73.25" y1="554.10" x2="76.25" y2="554.10" stroke="#111" stroke-width="1.1" />
<text x="66.34" y="556.85" font-size="8.0" fill="#141414" textLength="4.28" lengthAdjust="spacingAndGlyphs" >1</text>
<line x1="74.65" y1="547.60" x2="76.25" y2="547.60" stroke="#111" stroke-width="0.8" />
<line x1="74.65" y1="543.79" x2="76.25" y2="543.79" stroke="#111" stroke-width="0.8" />
<line x1="74.65" y1="541.10" x2="76.25" y2="541.10" stroke="#111" stroke-width="0.8" />
<line x1="74.65" y1="539.00" x2="76.25" y2="539.00" stroke="#111" stroke-width="0.8" />
<line x1="74.65" y1="537.29" x2="76.25" y2="537.29" stroke="#111" stroke-width="0.8" />
<line x1="74.65" y1="535.85" x2="76.25" y2="535.85" stroke="#111" stroke-width="0.8" />
<line x1="74.65" y1="534.59" x2="76.25" y2="534.59" stroke="#111" stroke-width="0.8" />
<line x1="74.65" y1="533.49" x2="76.25" y2="533.49" stroke="#111" stroke-width="0.8" />
<line x1="73.25" y1="532.50" x2="76.25" y2="532.50" stroke="#111" stroke-width="1.1" />
<text x="61.98" y="535.25" font-size="8.0" fill="#141414" textLength="8.57" lengthAdjust="spacingAndGlyphs" >10</text>
<line x1="74.65" y1="526.00" x2="76.25" y2="526.00" stroke="#111" stroke-width="0.8" />
<line x1="74.65" y1="522.19" x2="76.25" y2="522.19" stroke="#111" stroke-width="0.8" />
<line x1="74.65" y1="519.50" x2="76.25" y2="519.50" stroke="#111" stroke-width="0.8" />
<line x1="74.65" y1="517.40" x2="76.25" y2="517.40" stroke="#111" stroke-width="0.8" />
<line x1="74.65" y1="515.69" x2="76.25" y2="515.69" stroke="#111" stroke-width="0.8" />
<line x1="74.65" y1="514.25" x2="76.25" y2="514.25" stroke="#111" stroke-width="0.8" />
<line x1="74.65" y1="512.99" x2="76.25" y2="512.99" stroke="#111" stroke-width="0.8" />
<line x1="74.65" y1="511.89" x2="76.25" y2="511.89" stroke="#111" stroke-width="0.8" />
<line x1="73.25" y1="510.90" x2="76.25" y2="510.90" stroke="#111" stroke-width="1.1" />
<text x="57.70" y="513.65" font-size="8.0" fill="#141414" textLength="12.85" lengthAdjust="spacingAndGlyphs" >100</text>
<line x1="74.65" y1="504.40" x2="76.25" y2="504.40" stroke="#111" stroke-width="0.8" />
<line x1="74.65" y1="500.59" x2="76.25" y2="500.59" stroke="#111" stroke-width="0.8" />
<line x1="74.65" y1="497.90" x2="76.25" y2="497.90" stroke="#111" stroke-width="0.8" />
<line x1="74.65" y1="495.80" x2="76.25" y2="495.80" stroke="#111" stroke-width="0.8" />
<line x1="74.65" y1="494.09" x2="76.25" y2="494.09" stroke="#111" stroke-width="0.8" />
<line x1="74.65" y1="492.65" x2="76.25" y2="492.65" stroke="#111" stroke-width="0.8" />
<line x1="74.65" y1="491.39" x2="76.25" y2="491.39" stroke="#111" stroke-width="0.8" />
<line x1="74.65" y1="490.29" x2="76.25" y2="490.29" stroke="#111" stroke-width="0.8" />
<line x1="73.25" y1="489.30" x2="76.25" y2="489.30" stroke="#111" stroke-width="1.1" />
<text x="53.41" y="492.05" font-size="8.0" fill="#141414" textLength="17.14" lengthAdjust="spacingAndGlyphs" >1000</text>
<line x1="74.65" y1="482.80" x2="76.25" y2="482.80" stroke="#111" stroke-width="0.8" />
<line x1="74.65" y1="478.99" x2="76.25" y2="478.99" stroke="#111" stroke-width="0.8" />
<line x1="74.65" y1="476.30" x2="76.25" y2="476.30" stroke="#111" stroke-width="0.8" />
<line x1="74.65" y1="474.20" x2="76.25" y2="474.20" stroke="#111" stroke-width="0.8" />
<line x1="74.65" y1="472.49" x2="76.25" y2="472.49" stroke="#111" stroke-width="0.8" />
<line x1="74.65" y1="471.05" x2="76.25" y2="471.05" stroke="#111" stroke-width="0.8" />
<line x1="74.65" y1="469.79" x2="76.25" y2="469.79" stroke="#111" stroke-width="0.8" />
<line x1="74.65" y1="468.69" x2="76.25" y2="468.69" stroke="#111" stroke-width="0.8" />
<line x1="73.25" y1="467.70" x2="76.25" y2="467.70" stroke="#111" stroke-width="1.1" />
<text x="49.13" y="470.45" font-size="8.0" fill="#141414" textLength="21.42" lengthAdjust="spacingAndGlyphs" >10000</text>
<line x1="74.65" y1="461.20" x2="76.25" y2="461.20" stroke="#111" stroke-width="0.8" />
<line x1="74.65" y1="457.39" x2="76.25" y2="457.39" stroke="#111" stroke-width="0.8" />
<line x1="74.65" y1="454.70" x2="76.25" y2="454.70" stroke="#111" stroke-width="0.8" />
<line x1="74.65" y1="452.60" x2="76.25" y2="452.60" stroke="#111" stroke-width="0.8" />
<line x1="74.65" y1="450.89" x2="76.25" y2="450.89" stroke="#111" stroke-width="0.8" />
<line x1="74.65" y1="449.45" x2="76.25" y2="449.45" stroke="#111" stroke-width="0.8" />
<line x1="74.65" y1="448.19" x2="76.25" y2="448.19" stroke="#111" stroke-width="0.8" />
<line x1="74.65" y1="447.09" x2="76.25" y2="447.09" stroke="#111" stroke-width="0.8" />
<line x1="73.25" y1="446.10" x2="76.25" y2="446.10" stroke="#111" stroke-width="1.1" />
<text x="44.84" y="448.85" font-size="8.0" fill="#141414" textLength="25.71" lengthAdjust="spacingAndGlyphs" >100000</text>
<text x="-0.88" y="0" font-size="10" fill="#141414" textLength="110.17" lengthAdjust="spacingAndGlyphs" transform="translate(35.10 552.70) rotate(-90)">IL3 gene in plasma (pg/µl)</text>
<path d="M81.40 554.10V537.50H87.20V554.10" fill="none" stroke="#c06878" stroke-width="1.2"/>
<path d="M92.60 554.10V478.00H99.10V554.10" fill="none" stroke="#7d8fae" stroke-width="1.2"/>
<path d="M104.20 554.10V476.50H110.20V554.10" fill="none" stroke="#93bf80" stroke-width="1.2"/>
<path d="M122.90 554.10V537.60H129.10V554.10" fill="none" stroke="#c06878" stroke-width="1.2"/>
<path d="M134.50 554.10V475.80H140.30V554.10" fill="none" stroke="#7d8fae" stroke-width="1.2"/>
<path d="M145.50 554.10V466.50H151.70V554.10" fill="none" stroke="#93bf80" stroke-width="1.2"/>
<path d="M164.20 554.10V537.00H170.20V554.10" fill="none" stroke="#c06878" stroke-width="1.2"/>
<path d="M175.80 554.10V478.00H182.00V554.10" fill="none" stroke="#7d8fae" stroke-width="1.2"/>
<path d="M187.30 554.10V480.40H193.40V554.10" fill="none" stroke="#93bf80" stroke-width="1.2"/>
<path d="M206.20 554.10V537.50H212.20V554.10" fill="none" stroke="#c06878" stroke-width="1.2"/>
<path d="M217.50 554.10V477.80H223.30V554.10" fill="none" stroke="#7d8fae" stroke-width="1.2"/>
<path d="M229.00 554.10V476.30H235.10V554.10" fill="none" stroke="#93bf80" stroke-width="1.2"/>
<line x1="94.25" y1="473.50" x2="97.45" y2="473.50" stroke="#56698f" stroke-width="1.0" />
<line x1="94.25" y1="483.50" x2="97.45" y2="483.50" stroke="#56698f" stroke-width="1.0" />
<line x1="95.85" y1="473.50" x2="95.85" y2="483.50" stroke="#56698f" stroke-width="1.0" />
<line x1="105.60" y1="469.50" x2="108.80" y2="469.50" stroke="#7cb066" stroke-width="1.0" />
<line x1="105.60" y1="483.00" x2="108.80" y2="483.00" stroke="#7cb066" stroke-width="1.0" />
<line x1="107.20" y1="469.50" x2="107.20" y2="483.00" stroke="#7cb066" stroke-width="1.0" />
<circle cx="82.30" cy="537.30" r="2.2" fill="#a51b35"/>
<circle cx="87.40" cy="537.30" r="2.2" fill="#a51b35"/>
<rect x="91.55" y="466.95" width="4.5" height="4.5" fill="#2f4f7f"/>
<rect x="96.95" y="464.65" width="4.5" height="4.5" fill="#2f4f7f"/>
<rect x="92.35" y="475.55" width="4.5" height="4.5" fill="#2f4f7f"/>
<rect x="94.35" y="476.95" width="4.5" height="4.5" fill="#2f4f7f"/>
<rect x="93.75" y="478.95" width="4.5" height="4.5" fill="#2f4f7f"/>
<rect x="97.25" y="479.15" width="4.5" height="4.5" fill="#2f4f7f"/>
<rect x="91.55" y="483.15" width="4.5" height="4.5" fill="#2f4f7f"/>
<rect x="93.60" y="496.55" width="4.5" height="4.5" fill="#2f4f7f"/>
<rect x="93.60" y="505.05" width="4.5" height="4.5" fill="#2f4f7f"/>
<path d="M107.20 462.95L109.50 467.05L104.90 467.05Z" fill="#55a03a"/>
<path d="M103.80 468.35L106.10 472.45L101.50 472.45Z" fill="#55a03a"/>
<path d="M109.20 470.25L111.50 474.35L106.90 474.35Z" fill="#55a03a"/>
<path d="M107.20 477.95L109.50 482.05L104.90 482.05Z" fill="#55a03a"/>
<path d="M107.20 488.35L109.50 492.45L104.90 492.45Z" fill="#55a03a"/>
<path d="M105.30 515.65L107.60 519.75L103.00 519.75Z" fill="#55a03a"/>
<path d="M110.70 515.65L113.00 519.75L108.40 519.75Z" fill="#55a03a"/>
<line x1="135.80" y1="469.20" x2="139.00" y2="469.20" stroke="#56698f" stroke-width="1.0" />
<line x1="135.80" y1="488.00" x2="139.00" y2="488.00" stroke="#56698f" stroke-width="1.0" />
<line x1="137.40" y1="469.20" x2="137.40" y2="488.00" stroke="#56698f" stroke-width="1.0" />
<line x1="147.00" y1="463.00" x2="150.20" y2="463.00" stroke="#7cb066" stroke-width="1.0" />
<line x1="147.00" y1="470.00" x2="150.20" y2="470.00" stroke="#7cb066" stroke-width="1.0" />
<line x1="148.60" y1="463.00" x2="148.60" y2="470.00" stroke="#7cb066" stroke-width="1.0" />
<circle cx="124.00" cy="537.60" r="2.2" fill="#a51b35"/>
<circle cx="129.00" cy="537.60" r="2.2" fill="#a51b35"/>
<rect x="134.85" y="459.05" width="4.5" height="4.5" fill="#2f4f7f"/>
<rect x="132.75" y="480.75" width="4.5" height="4.5" fill="#2f4f7f"/>
<rect x="138.55" y="478.55" width="4.5" height="4.5" fill="#2f4f7f"/>
<rect x="135.15" y="506.45" width="4.5" height="4.5" fill="#2f4f7f"/>
<rect x="135.15" y="518.95" width="4.5" height="4.5" fill="#2f4f7f"/>
<path d="M146.40 457.15L148.70 461.25L144.10 461.25Z" fill="#55a03a"/>
<path d="M151.50 455.25L153.80 459.35L149.20 459.35Z" fill="#55a03a"/>
<path d="M148.50 469.45L150.80 473.55L146.20 473.55Z" fill="#55a03a"/>
<path d="M151.50 473.35L153.80 477.45L149.20 477.45Z" fill="#55a03a"/>
<path d="M146.50 477.55L148.80 481.65L144.20 481.65Z" fill="#55a03a"/>
<line x1="177.30" y1="473.00" x2="180.50" y2="473.00" stroke="#56698f" stroke-width="1.0" />
<line x1="177.30" y1="486.00" x2="180.50" y2="486.00" stroke="#56698f" stroke-width="1.0" />
<line x1="178.90" y1="473.00" x2="178.90" y2="486.00" stroke="#56698f" stroke-width="1.0" />
<line x1="188.75" y1="472.30" x2="191.95" y2="472.30" stroke="#7cb066" stroke-width="1.0" />
<line x1="188.75" y1="480.00" x2="191.95" y2="480.00" stroke="#7cb066" stroke-width="1.0" />
<line x1="190.35" y1="472.30" x2="190.35" y2="480.00" stroke="#7cb066" stroke-width="1.0" />
<circle cx="165.00" cy="537.00" r="2.2" fill="#a51b35"/>
<circle cx="170.50" cy="535.20" r="2.2" fill="#a51b35"/>
<rect x="173.15" y="468.95" width="4.5" height="4.5" fill="#2f4f7f"/>
<rect x="179.65" y="469.25" width="4.5" height="4.5" fill="#2f4f7f"/>
<rect x="175.35" y="474.05" width="4.5" height="4.5" fill="#2f4f7f"/>
<rect x="178.05" y="476.25" width="4.5" height="4.5" fill="#2f4f7f"/>
<rect x="175.55" y="480.25" width="4.5" height="4.5" fill="#2f4f7f"/>
<rect x="178.15" y="482.35" width="4.5" height="4.5" fill="#2f4f7f"/>
<rect x="176.15" y="486.15" width="4.5" height="4.5" fill="#2f4f7f"/>
<rect x="177.95" y="484.75" width="4.5" height="4.5" fill="#2f4f7f"/>
<path d="M188.30 466.75L190.60 470.85L186.00 470.85Z" fill="#55a03a"/>
<path d="M193.70 466.75L196.00 470.85L191.40 470.85Z" fill="#55a03a"/>
<path d="M186.50 472.95L188.80 477.05L184.20 477.05Z" fill="#55a03a"/>
<path d="M190.40 474.15L192.70 478.25L188.10 478.25Z" fill="#55a03a"/>
<path d="M193.50 476.75L195.80 480.85L191.20 480.85Z" fill="#55a03a"/>
<path d="M190.60 486.45L192.90 490.55L188.30 490.55Z" fill="#55a03a"/>
<line x1="218.80" y1="476.00" x2="222.00" y2="476.00" stroke="#56698f" stroke-width="1.0" />
<line x1="218.80" y1="482.00" x2="222.00" y2="482.00" stroke="#56698f" stroke-width="1.0" />
<line x1="220.40" y1="476.00" x2="220.40" y2="482.00" stroke="#56698f" stroke-width="1.0" />
<line x1="230.45" y1="472.00" x2="233.65" y2="472.00" stroke="#7cb066" stroke-width="1.0" />
<line x1="230.45" y1="478.00" x2="233.65" y2="478.00" stroke="#7cb066" stroke-width="1.0" />
<line x1="232.05" y1="472.00" x2="232.05" y2="478.00" stroke="#7cb066" stroke-width="1.0" />
<circle cx="208.00" cy="537.50" r="2.2" fill="#a51b35"/>
<circle cx="210.30" cy="537.50" r="2.2" fill="#a51b35"/>
<rect x="214.35" y="469.75" width="4.5" height="4.5" fill="#2f4f7f"/>
<rect x="217.55" y="471.75" width="4.5" height="4.5" fill="#2f4f7f"/>
<rect x="221.55" y="469.75" width="4.5" height="4.5" fill="#2f4f7f"/>
<rect x="218.15" y="478.95" width="4.5" height="4.5" fill="#2f4f7f"/>
<rect x="218.15" y="488.95" width="4.5" height="4.5" fill="#2f4f7f"/>
<rect x="218.15" y="491.55" width="4.5" height="4.5" fill="#2f4f7f"/>
<rect x="218.15" y="496.55" width="4.5" height="4.5" fill="#2f4f7f"/>
<path d="M232.00 467.05L234.30 471.15L229.70 471.15Z" fill="#55a03a"/>
<path d="M235.40 468.55L237.70 472.65L233.10 472.65Z" fill="#55a03a"/>
<path d="M228.20 471.45L230.50 475.55L225.90 475.55Z" fill="#55a03a"/>
<path d="M231.50 472.55L233.80 476.65L229.20 476.65Z" fill="#55a03a"/>
<path d="M232.00 481.55L234.30 485.65L229.70 485.65Z" fill="#55a03a"/>
<path d="M231.60 489.45L233.90 493.55L229.30 493.55Z" fill="#55a03a"/>
<line x1="76.00" y1="554.10" x2="237.90" y2="554.10" stroke="#111" stroke-width="1.5" />
<line x1="84.50" y1="554.10" x2="84.50" y2="557.60" stroke="#111" stroke-width="1.0" />
<line x1="95.80" y1="554.10" x2="95.80" y2="557.60" stroke="#111" stroke-width="1.0" />
<line x1="107.20" y1="554.10" x2="107.20" y2="557.60" stroke="#111" stroke-width="1.0" />
<line x1="126.00" y1="554.10" x2="126.00" y2="557.60" stroke="#111" stroke-width="1.0" />
<line x1="137.40" y1="554.10" x2="137.40" y2="557.60" stroke="#111" stroke-width="1.0" />
<line x1="148.70" y1="554.10" x2="148.70" y2="557.60" stroke="#111" stroke-width="1.0" />
<line x1="167.20" y1="554.10" x2="167.20" y2="557.60" stroke="#111" stroke-width="1.0" />
<line x1="178.70" y1="554.10" x2="178.70" y2="557.60" stroke="#111" stroke-width="1.0" />
<line x1="190.20" y1="554.10" x2="190.20" y2="557.60" stroke="#111" stroke-width="1.0" />
<line x1="209.10" y1="554.10" x2="209.10" y2="557.60" stroke="#111" stroke-width="1.0" />
<line x1="220.40" y1="554.10" x2="220.40" y2="557.60" stroke="#111" stroke-width="1.0" />
<line x1="231.90" y1="554.10" x2="231.90" y2="557.60" stroke="#111" stroke-width="1.0" />
<line x1="84.80" y1="562.50" x2="107.20" y2="562.50" stroke="#333" stroke-width="1.1" />
<line x1="126.00" y1="562.50" x2="148.80" y2="562.50" stroke="#333" stroke-width="1.1" />
<line x1="168.10" y1="562.50" x2="190.00" y2="562.50" stroke="#333" stroke-width="1.1" />
<line x1="209.00" y1="562.50" x2="231.90" y2="562.50" stroke="#333" stroke-width="1.1" />
<line x1="125.80" y1="452.50" x2="148.80" y2="452.50" stroke="#3a3a3a" stroke-width="1.1" />
<circle cx="137.30" cy="448.20" r="1.15" fill="#2a2a2a"/>
<text x="255.16" y="406.50" font-size="12.4" fill="#141414" textLength="6.25" lengthAdjust="spacingAndGlyphs" >F</text>
<line x1="323.10" y1="443.50" x2="323.10" y2="554.90" stroke="#111" stroke-width="1.5" />
<line x1="320.10" y1="554.20" x2="323.10" y2="554.20" stroke="#111" stroke-width="1.1" />
<text x="312.99" y="556.95" font-size="8.0" fill="#141414" textLength="4.28" lengthAdjust="spacingAndGlyphs" >1</text>
<line x1="321.50" y1="546.10" x2="323.10" y2="546.10" stroke="#111" stroke-width="0.8" />
<line x1="321.50" y1="541.37" x2="323.10" y2="541.37" stroke="#111" stroke-width="0.8" />
<line x1="321.50" y1="538.00" x2="323.10" y2="538.00" stroke="#111" stroke-width="0.8" />
<line x1="321.50" y1="535.40" x2="323.10" y2="535.40" stroke="#111" stroke-width="0.8" />
<line x1="321.50" y1="533.27" x2="323.10" y2="533.27" stroke="#111" stroke-width="0.8" />
<line x1="321.50" y1="531.47" x2="323.10" y2="531.47" stroke="#111" stroke-width="0.8" />
<line x1="321.50" y1="529.91" x2="323.10" y2="529.91" stroke="#111" stroke-width="0.8" />
<line x1="321.50" y1="528.53" x2="323.10" y2="528.53" stroke="#111" stroke-width="0.8" />
<line x1="320.10" y1="527.30" x2="323.10" y2="527.30" stroke="#111" stroke-width="1.1" />
<text x="308.63" y="530.05" font-size="8.0" fill="#141414" textLength="8.57" lengthAdjust="spacingAndGlyphs" >10</text>
<line x1="321.50" y1="519.20" x2="323.10" y2="519.20" stroke="#111" stroke-width="0.8" />
<line x1="321.50" y1="514.47" x2="323.10" y2="514.47" stroke="#111" stroke-width="0.8" />
<line x1="321.50" y1="511.10" x2="323.10" y2="511.10" stroke="#111" stroke-width="0.8" />
<line x1="321.50" y1="508.50" x2="323.10" y2="508.50" stroke="#111" stroke-width="0.8" />
<line x1="321.50" y1="506.37" x2="323.10" y2="506.37" stroke="#111" stroke-width="0.8" />
<line x1="321.50" y1="504.57" x2="323.10" y2="504.57" stroke="#111" stroke-width="0.8" />
<line x1="321.50" y1="503.01" x2="323.10" y2="503.01" stroke="#111" stroke-width="0.8" />
<line x1="321.50" y1="501.63" x2="323.10" y2="501.63" stroke="#111" stroke-width="0.8" />
<line x1="320.10" y1="500.40" x2="323.10" y2="500.40" stroke="#111" stroke-width="1.1" />
<text x="304.35" y="503.15" font-size="8.0" fill="#141414" textLength="12.85" lengthAdjust="spacingAndGlyphs" >100</text>
<line x1="321.50" y1="492.30" x2="323.10" y2="492.30" stroke="#111" stroke-width="0.8" />
<line x1="321.50" y1="487.57" x2="323.10" y2="487.57" stroke="#111" stroke-width="0.8" />
<line x1="321.50" y1="484.20" x2="323.10" y2="484.20" stroke="#111" stroke-width="0.8" />
<line x1="321.50" y1="481.60" x2="323.10" y2="481.60" stroke="#111" stroke-width="0.8" />
<line x1="321.50" y1="479.47" x2="323.10" y2="479.47" stroke="#111" stroke-width="0.8" />
<line x1="321.50" y1="477.67" x2="323.10" y2="477.67" stroke="#111" stroke-width="0.8" />
<line x1="321.50" y1="476.11" x2="323.10" y2="476.11" stroke="#111" stroke-width="0.8" />
<line x1="321.50" y1="474.73" x2="323.10" y2="474.73" stroke="#111" stroke-width="0.8" />
<line x1="320.10" y1="473.50" x2="323.10" y2="473.50" stroke="#111" stroke-width="1.1" />
<text x="300.06" y="476.25" font-size="8.0" fill="#141414" textLength="17.14" lengthAdjust="spacingAndGlyphs" >1000</text>
<line x1="321.50" y1="465.40" x2="323.10" y2="465.40" stroke="#111" stroke-width="0.8" />
<line x1="321.50" y1="460.67" x2="323.10" y2="460.67" stroke="#111" stroke-width="0.8" />
<line x1="321.50" y1="457.30" x2="323.10" y2="457.30" stroke="#111" stroke-width="0.8" />
<line x1="321.50" y1="454.70" x2="323.10" y2="454.70" stroke="#111" stroke-width="0.8" />
<line x1="321.50" y1="452.57" x2="323.10" y2="452.57" stroke="#111" stroke-width="0.8" />
<line x1="321.50" y1="450.77" x2="323.10" y2="450.77" stroke="#111" stroke-width="0.8" />
<line x1="321.50" y1="449.21" x2="323.10" y2="449.21" stroke="#111" stroke-width="0.8" />
<line x1="321.50" y1="447.83" x2="323.10" y2="447.83" stroke="#111" stroke-width="0.8" />
<line x1="320.10" y1="446.60" x2="323.10" y2="446.60" stroke="#111" stroke-width="1.1" />
<text x="295.78" y="449.35" font-size="8.0" fill="#141414" textLength="21.42" lengthAdjust="spacingAndGlyphs" >10000</text>
<text x="-0.42" y="0" font-size="10" fill="#141414" textLength="113.09" lengthAdjust="spacingAndGlyphs" transform="translate(286.40 555.10) rotate(-90)">SRY gene in plasma (pg/µl)</text>
<path d="M327.70 554.20V530.00H334.20V554.20" fill="none" stroke="#c06878" stroke-width="1.2"/>
<path d="M339.70 554.20V477.50H345.40V554.20" fill="none" stroke="#7d8fae" stroke-width="1.2"/>
<path d="M351.10 554.20V477.50H356.60V554.20" fill="none" stroke="#93bf80" stroke-width="1.2"/>
<path d="M368.90 554.20V533.80H374.90V554.20" fill="none" stroke="#c06878" stroke-width="1.2"/>
<path d="M380.50 554.20V508.50H386.20V554.20" fill="none" stroke="#7d8fae" stroke-width="1.2"/>
<path d="M391.80 554.20V482.50H397.40V554.20" fill="none" stroke="#93bf80" stroke-width="1.2"/>
<path d="M410.40 554.20V533.50H416.50V554.20" fill="none" stroke="#c06878" stroke-width="1.2"/>
<path d="M421.70 554.20V481.50H428.10V554.20" fill="none" stroke="#7d8fae" stroke-width="1.2"/>
<path d="M433.50 554.20V478.70H439.20V554.20" fill="none" stroke="#93bf80" stroke-width="1.2"/>
<path d="M451.90 554.20V533.30H457.70V554.20" fill="none" stroke="#c06878" stroke-width="1.2"/>
<path d="M463.50 554.20V533.50H469.20V554.20" fill="none" stroke="#7d8fae" stroke-width="1.2"/>
<path d="M474.50 554.20V533.70H480.60V554.20" fill="none" stroke="#93bf80" stroke-width="1.2"/>
<line x1="340.95" y1="473.30" x2="344.15" y2="473.30" stroke="#56698f" stroke-width="1.0" />
<line x1="340.95" y1="484.60" x2="344.15" y2="484.60" stroke="#56698f" stroke-width="1.0" />
<line x1="342.55" y1="473.30" x2="342.55" y2="484.60" stroke="#56698f" stroke-width="1.0" />
<line x1="352.25" y1="471.50" x2="355.45" y2="471.50" stroke="#7cb066" stroke-width="1.0" />
<line x1="352.25" y1="484.00" x2="355.45" y2="484.00" stroke="#7cb066" stroke-width="1.0" />
<line x1="353.85" y1="471.50" x2="353.85" y2="484.00" stroke="#7cb066" stroke-width="1.0" />
<circle cx="329.10" cy="531.60" r="2.2" fill="#a51b35"/>
<circle cx="334.40" cy="528.50" r="2.2" fill="#a51b35"/>
<rect x="340.05" y="461.25" width="4.5" height="4.5" fill="#2f4f7f"/>
<rect x="336.55" y="469.85" width="4.5" height="4.5" fill="#2f4f7f"/>
<rect x="341.95" y="475.45" width="4.5" height="4.5" fill="#2f4f7f"/>
<rect x="343.65" y="483.15" width="4.5" height="4.5" fill="#2f4f7f"/>
<rect x="338.15" y="488.55" width="4.5" height="4.5" fill="#2f4f7f"/>
<rect x="340.25" y="505.85" width="4.5" height="4.5" fill="#2f4f7f"/>
<rect x="340.25" y="531.25" width="4.5" height="4.5" fill="#2f4f7f"/>
<path d="M351.50 464.45L353.80 468.55L349.20 468.55Z" fill="#55a03a"/>
<path d="M356.80 463.35L359.10 467.45L354.50 467.45Z" fill="#55a03a"/>
<path d="M353.50 480.95L355.80 485.05L351.20 485.05Z" fill="#55a03a"/>
<path d="M353.30 492.45L355.60 496.55L351.00 496.55Z" fill="#55a03a"/>
<path d="M353.30 512.35L355.60 516.45L351.00 516.45Z" fill="#55a03a"/>
<path d="M353.30 531.70L355.60 535.80L351.00 535.80Z" fill="#55a03a"/>
<line x1="381.75" y1="501.30" x2="384.95" y2="501.30" stroke="#56698f" stroke-width="1.0" />
<line x1="381.75" y1="523.80" x2="384.95" y2="523.80" stroke="#56698f" stroke-width="1.0" />
<line x1="383.35" y1="501.30" x2="383.35" y2="523.80" stroke="#56698f" stroke-width="1.0" />
<line x1="393.00" y1="479.50" x2="396.20" y2="479.50" stroke="#7cb066" stroke-width="1.0" />
<line x1="393.00" y1="486.00" x2="396.20" y2="486.00" stroke="#7cb066" stroke-width="1.0" />
<line x1="394.60" y1="479.50" x2="394.60" y2="486.00" stroke="#7cb066" stroke-width="1.0" />
<circle cx="369.80" cy="533.80" r="2.2" fill="#a51b35"/>
<circle cx="375.00" cy="533.80" r="2.2" fill="#a51b35"/>
<rect x="381.05" y="492.35" width="4.5" height="4.5" fill="#2f4f7f"/>
<rect x="381.05" y="512.35" width="4.5" height="4.5" fill="#2f4f7f"/>
<rect x="381.05" y="515.75" width="4.5" height="4.5" fill="#2f4f7f"/>
<rect x="379.05" y="531.55" width="4.5" height="4.5" fill="#2f4f7f"/>
<rect x="384.45" y="531.55" width="4.5" height="4.5" fill="#2f4f7f"/>
<path d="M394.80 469.85L397.10 473.95L392.50 473.95Z" fill="#55a03a"/>
<path d="M394.80 475.25L397.10 479.35L392.50 479.35Z" fill="#55a03a"/>
<path d="M394.80 480.95L397.10 485.05L392.50 485.05Z" fill="#55a03a"/>
<path d="M394.80 498.75L397.10 502.85L392.50 502.85Z" fill="#55a03a"/>
<path d="M394.80 504.85L397.10 508.95L392.50 508.95Z" fill="#55a03a"/>
<line x1="423.30" y1="476.00" x2="426.50" y2="476.00" stroke="#56698f" stroke-width="1.0" />
<line x1="423.30" y1="487.00" x2="426.50" y2="487.00" stroke="#56698f" stroke-width="1.0" />
<line x1="424.90" y1="476.00" x2="424.90" y2="487.00" stroke="#56698f" stroke-width="1.0" />
<line x1="434.75" y1="474.00" x2="437.95" y2="474.00" stroke="#7cb066" stroke-width="1.0" />
<line x1="434.75" y1="483.00" x2="437.95" y2="483.00" stroke="#7cb066" stroke-width="1.0" />
<line x1="436.35" y1="474.00" x2="436.35" y2="483.00" stroke="#7cb066" stroke-width="1.0" />
<circle cx="413.10" cy="533.50" r="2.2" fill="#a51b35"/>
<rect x="419.65" y="467.75" width="4.5" height="4.5" fill="#2f4f7f"/>
<rect x="424.25" y="473.15" width="4.5" height="4.5" fill="#2f4f7f"/>
<rect x="425.85" y="479.25" width="4.5" height="4.5" fill="#2f4f7f"/>
<rect x="420.65" y="484.05" width="4.5" height="4.5" fill="#2f4f7f"/>
<rect x="422.55" y="501.45" width="4.5" height="4.5" fill="#2f4f7f"/>
<rect x="422.55" y="525.05" width="4.5" height="4.5" fill="#2f4f7f"/>
<path d="M439.60 466.95L441.90 471.05L437.30 471.05Z" fill="#55a03a"/>
<path d="M433.80 471.75L436.10 475.85L431.50 475.85Z" fill="#55a03a"/>
<path d="M432.90 478.15L435.20 482.25L430.60 482.25Z" fill="#55a03a"/>
<path d="M438.70 480.45L441.00 484.55L436.40 484.55Z" fill="#55a03a"/>
<path d="M436.30 510.25L438.60 514.35L434.00 514.35Z" fill="#55a03a"/>
<line x1="464.75" y1="531.00" x2="467.95" y2="531.00" stroke="#56698f" stroke-width="1.0" />
<line x1="464.75" y1="536.00" x2="467.95" y2="536.00" stroke="#56698f" stroke-width="1.0" />
<line x1="466.35" y1="531.00" x2="466.35" y2="536.00" stroke="#56698f" stroke-width="1.0" />
<line x1="475.95" y1="532.00" x2="479.15" y2="532.00" stroke="#7cb066" stroke-width="1.0" />
<line x1="475.95" y1="535.00" x2="479.15" y2="535.00" stroke="#7cb066" stroke-width="1.0" />
<line x1="477.55" y1="532.00" x2="477.55" y2="535.00" stroke="#7cb066" stroke-width="1.0" />
<circle cx="452.90" cy="533.30" r="2.2" fill="#a51b35"/>
<circle cx="458.20" cy="533.30" r="2.2" fill="#a51b35"/>
<rect x="464.05" y="530.55" width="4.5" height="4.5" fill="#2f4f7f"/>
<rect x="464.05" y="532.45" width="4.5" height="4.5" fill="#2f4f7f"/>
<rect x="464.05" y="544.95" width="4.5" height="4.5" fill="#2f4f7f"/>
<path d="M473.60 531.70L475.90 535.80L471.30 535.80Z" fill="#55a03a"/>
<path d="M477.90 531.15L480.20 535.25L475.60 535.25Z" fill="#55a03a"/>
<path d="M481.70 531.70L484.00 535.80L479.40 535.80Z" fill="#55a03a"/>
<path d="M477.90 547.05L480.20 551.15L475.60 551.15Z" fill="#55a03a"/>
<line x1="323.00" y1="554.20" x2="483.70" y2="554.20" stroke="#111" stroke-width="1.5" />
<line x1="330.80" y1="554.20" x2="330.80" y2="557.70" stroke="#111" stroke-width="1.0" />
<line x1="342.60" y1="554.20" x2="342.60" y2="557.70" stroke="#111" stroke-width="1.0" />
<line x1="354.20" y1="554.20" x2="354.20" y2="557.70" stroke="#111" stroke-width="1.0" />
<line x1="372.00" y1="554.20" x2="372.00" y2="557.70" stroke="#111" stroke-width="1.0" />
<line x1="383.40" y1="554.20" x2="383.40" y2="557.70" stroke="#111" stroke-width="1.0" />
<line x1="394.90" y1="554.20" x2="394.90" y2="557.70" stroke="#111" stroke-width="1.0" />
<line x1="413.10" y1="554.20" x2="413.10" y2="557.70" stroke="#111" stroke-width="1.0" />
<line x1="424.80" y1="554.20" x2="424.80" y2="557.70" stroke="#111" stroke-width="1.0" />
<line x1="436.30" y1="554.20" x2="436.30" y2="557.70" stroke="#111" stroke-width="1.0" />
<line x1="454.60" y1="554.20" x2="454.60" y2="557.70" stroke="#111" stroke-width="1.0" />
<line x1="466.30" y1="554.20" x2="466.30" y2="557.70" stroke="#111" stroke-width="1.0" />
<line x1="477.70" y1="554.20" x2="477.70" y2="557.70" stroke="#111" stroke-width="1.0" />
<line x1="331.00" y1="562.50" x2="353.80" y2="562.50" stroke="#333" stroke-width="1.1" />
<line x1="372.30" y1="562.50" x2="394.90" y2="562.50" stroke="#333" stroke-width="1.1" />
<line x1="413.30" y1="562.50" x2="436.30" y2="562.50" stroke="#333" stroke-width="1.1" />
<line x1="455.00" y1="562.50" x2="477.70" y2="562.50" stroke="#333" stroke-width="1.1" />
<line x1="372.20" y1="462.85" x2="394.20" y2="462.85" stroke="#3a3a3a" stroke-width="1.1" />
<circle cx="383.20" cy="458.80" r="1.15" fill="#2a2a2a"/>
<circle cx="392.80" cy="421.65" r="2.3" fill="#a51b35"/>
<rect x="390.45" y="432.25" width="4.5" height="4.5" fill="#2f4f7f"/>
<path d="M392.70 444.90L395.20 449.10L390.20 449.10Z" fill="#55a03a"/>
<text x="397.40" y="424.50" font-size="8.0" fill="#141414" textLength="58.81" lengthAdjust="spacingAndGlyphs" >pre LPS injection</text>
<text x="397.91" y="436.90" font-size="8.0" fill="#141414" textLength="91.10" lengthAdjust="spacingAndGlyphs" >6 hours after LPS injection</text>
<text x="397.91" y="449.30" font-size="8.0" fill="#141414" textLength="95.80" lengthAdjust="spacingAndGlyphs" >20 hours after LPS injection</text>
<text x="36.21" y="565.25" font-size="7.9" fill="#141414" textLength="18.16" lengthAdjust="spacingAndGlyphs" >Non-</text>
<text x="19.42" y="576.00" font-size="7.9" fill="#141414" textLength="52.05" lengthAdjust="spacingAndGlyphs" >hematopoietic</text>
<text x="19.33" y="587.25" font-size="7.9" fill="#141414" textLength="52.39" lengthAdjust="spacingAndGlyphs" >Hematopoietic</text>
<text x="283.12" y="565.00" font-size="7.9" fill="#141414" textLength="18.05" lengthAdjust="spacingAndGlyphs" >Non-</text>
<text x="266.42" y="575.80" font-size="7.9" fill="#141414" textLength="51.90" lengthAdjust="spacingAndGlyphs" >hematopoietic</text>
<text x="265.83" y="587.30" font-size="7.9" fill="#141414" textLength="52.49" lengthAdjust="spacingAndGlyphs" >Hematopoietic</text>
<text x="86.97" y="576.10" font-size="7.9" fill="#141414" textLength="17.95" lengthAdjust="spacingAndGlyphs" >Male</text>
<text x="86.97" y="587.00" font-size="7.9" fill="#141414" textLength="17.95" lengthAdjust="spacingAndGlyphs" >Male</text>
<text x="128.47" y="576.10" font-size="7.9" fill="#141414" textLength="17.95" lengthAdjust="spacingAndGlyphs" >Male</text>
<text x="124.36" y="587.00" font-size="7.9" fill="#141414" textLength="26.19" lengthAdjust="spacingAndGlyphs" >Female</text>
<text x="165.66" y="576.10" font-size="7.9" fill="#141414" textLength="26.19" lengthAdjust="spacingAndGlyphs" >Female</text>
<text x="169.77" y="587.00" font-size="7.9" fill="#141414" textLength="17.95" lengthAdjust="spacingAndGlyphs" >Male</text>
<text x="207.06" y="576.10" font-size="7.9" fill="#141414" textLength="26.19" lengthAdjust="spacingAndGlyphs" >Female</text>
<text x="207.06" y="587.00" font-size="7.9" fill="#141414" textLength="26.19" lengthAdjust="spacingAndGlyphs" >Female</text>
<text x="332.87" y="576.10" font-size="7.9" fill="#141414" textLength="17.95" lengthAdjust="spacingAndGlyphs" >Male</text>
<text x="332.87" y="587.00" font-size="7.9" fill="#141414" textLength="17.95" lengthAdjust="spacingAndGlyphs" >Male</text>
<text x="374.47" y="576.10" font-size="7.9" fill="#141414" textLength="17.95" lengthAdjust="spacingAndGlyphs" >Male</text>
<text x="370.36" y="587.00" font-size="7.9" fill="#141414" textLength="26.19" lengthAdjust="spacingAndGlyphs" >Female</text>
<text x="411.56" y="576.10" font-size="7.9" fill="#141414" textLength="26.19" lengthAdjust="spacingAndGlyphs" >Female</text>
<text x="415.67" y="587.00" font-size="7.9" fill="#141414" textLength="17.95" lengthAdjust="spacingAndGlyphs" >Male</text>
<text x="452.96" y="576.10" font-size="7.9" fill="#141414" textLength="26.19" lengthAdjust="spacingAndGlyphs" >Female</text>
<text x="452.96" y="587.00" font-size="7.9" fill="#141414" textLength="26.19" lengthAdjust="spacingAndGlyphs" >Female</text>
<line x1="15.80" y1="579.50" x2="484.00" y2="579.50" stroke="#333" stroke-width="1.1" stroke-dasharray="2.4 2.1"/>
<rect x="0" y="0" width="520" height="1" fill="#4a4a4a"/>
<rect x="0" y="1" width="520" height="1" fill="#c8c8c8"/>
<rect x="0" y="598" width="520" height="1" fill="#555"/>
<rect x="0" y="597" width="520" height="1" fill="#d0d0d0"/>
<rect x="0" y="0" width="1" height="599" fill="#000"/>
<rect x="519" y="0" width="1" height="599" fill="#000"/>
</svg>
</body></html>
